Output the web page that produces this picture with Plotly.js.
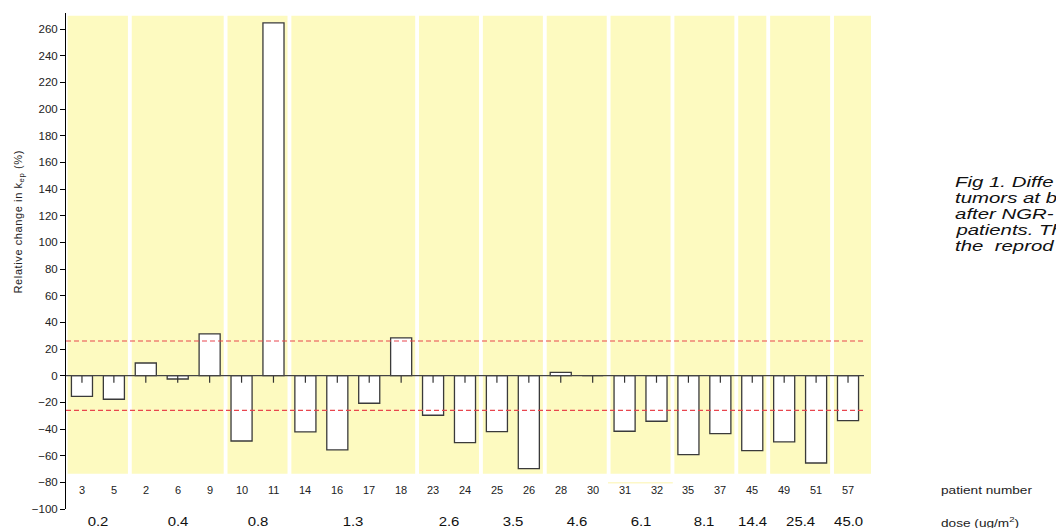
<!DOCTYPE html>
<html>
<head>
<meta charset="utf-8">
<script src="https://cdn.plot.ly/plotly-3.0.1.min.js"></script>
<style>
  html, body { margin: 0; padding: 0; background: #ffffff; }
  #chart { width: 1056px; height: 528px; }
</style>
</head>
<body>
<div id="chart"></div>
<script>
// ---- data ----
var patients = ['3','5','2','6','9','10','11','14','16','17','18','23','24','25','26','28','30','31','32','35','37','45','49','51','57'];
var changes  = [-15.5,-17.7,9.5,-2.5,31.3,-49,264.6,-42.2,-55.7,-20.7,28.3,-29.7,-50.2,-42,-69.7,2.5,0,-41.7,-34.2,-59.2,-43.5,-56.2,-49.7,-65.5,-33.7];
var errMinus = [5.3,5.3,5.3,5.3,5.3,5.3,5.3,5.3,5.3,5.3,5.3,5.3,5.3,5.3,5.3,5.3,5.3,5.3,5.3,5.3,5.3,5.3,5.3,5.3,5.3];
var doses      = ['0.2','0.4','0.8','1.3','2.6','3.5','4.6','6.1','8.1','14.4','25.4','45.0'];
var groupSizes = [2,3,2,4,2,2,2,2,2,1,2,1];
var thresholds = [26, -26];
var captionLines = ['Fig 1. Diffe', 'tumors at b', 'after NGR-', 'patients. Th', 'the  reprod'];

// ---- layout helpers ----
var idx = patients.map(function(_, i){ return i; });
var X_MIN = -0.5, X_MAX = 24.72, Y_MIN = -100, Y_MAX = 272;
var BAND_LO = -73.5, BAND_HI = 270;
var FONT = 'Arial, "Liberation Sans", sans-serif';

var shapes = [];
var annotations = [];
var start = 0;
groupSizes.forEach(function(n, g){
  var first = start, last = start + n - 1;
  var x0 = (g === 0) ? first - 0.45 : first - 0.44;
  var x1 = (g === groupSizes.length - 1) ? X_MAX : last + 0.44;
  shapes.push({type:'rect', layer:'below', xref:'x', yref:'y', x0:x0, x1:x1, y0:BAND_LO, y1:BAND_HI,
               fillcolor:'#FDFAC0', line:{width:0}});
  annotations.push({xref:'x', yref:'paper', x:(first + last) / 2, y:-0.026, xanchor:'center', yanchor:'middle',
                    text:doses[g], showarrow:false, name:'dose',
                    font:{family:FONT, size:13, color:'#111'}});
  start += n;
});

// faint yellow stroke under group 6.1 labels (as in the original)
shapes.push({type:'line', layer:'below', xref:'x', yref:'y', x0:16.48, x1:18.51, y0:-80.3, y1:-80.3,
             line:{color:'#FDF8C8', width:1.5}});

// zero line and thresholds
shapes.push({type:'line', layer:'above', xref:'x', yref:'y', x0:-0.5, x1:24.5, y0:0, y1:0,
             line:{color:'#444', width:1.3}});
thresholds.forEach(function(t){
  shapes.push({type:'line', layer:'above', xref:'x', yref:'y', x0:-0.5, x1:24.5, y0:t, y1:t,
               line:{color:'#E8464E', width:1.2, dash:'5px,3px'}});
});

// patient number labels
patients.forEach(function(p, i){
  annotations.push({xref:'x', yref:'y', x:i, y:-86, xanchor:'center', yanchor:'middle', text:p, showarrow:false,
                    font:{family:FONT, size:11, color:'#222'}});
});

// y title
annotations.push({xref:'paper', yref:'paper', x:-0.058, y:0.58, xanchor:'center', yanchor:'middle', textangle:-90,
                  text:'Relative change in k<sub>ep</sub> (%)', showarrow:false, name:'ytitle',
                  font:{family:FONT, size:11, color:'#222'}});

// right side legends
annotations.push({xref:'paper', yref:'paper', x:1.084, xanchor:'left', yanchor:'middle', y:0.038, text:'patient number',
                  showarrow:false, name:'legend', font:{family:FONT, size:11, color:'#222'}});
annotations.push({xref:'paper', yref:'paper', x:1.084, xanchor:'left', yanchor:'middle', y:-0.026, text:'dose (ug/m<sup>2</sup>)',
                  showarrow:false, name:'legend', font:{family:FONT, size:11, color:'#222'}});
captionLines.forEach(function(t, k){
  annotations.push({xref:'paper', yref:'paper', x:1.102, xanchor:'left', yanchor:'middle', y:0.66 - k * 0.0323,
                    text:'<i>' + t + '</i>', showarrow:false, name:'caption',
                    font:{family:FONT, size:15, color:'#111'}});
});

var bars = {
  type:'bar', x:idx, y:changes, width:0.66,
  marker:{color:'#ffffff', line:{color:'#3a3a3a', width:1.3}},
  hoverinfo:'skip', showlegend:false
};
var ticksTrace = {
  type:'scatter', mode:'markers', x:idx, y:idx.map(function(){ return 0; }),
  marker:{size:1, color:'rgba(0,0,0,0)'},
  error_y:{type:'data', symmetric:false, array:idx.map(function(){ return 0; }), arrayminus:errMinus,
           width:0, thickness:1.2, color:'#333'},
  hoverinfo:'skip', showlegend:false
};

var layout = {
  width:1056, height:528,
  margin:{l:66, r:185, t:13, b:19},
  paper_bgcolor:'#ffffff', plot_bgcolor:'rgba(0,0,0,0)',
  xaxis:{range:[X_MIN, X_MAX], showgrid:false, zeroline:false, showline:false,
         showticklabels:false, ticks:''},
  yaxis:{range:[Y_MIN, Y_MAX], tick0:0, dtick:20, showgrid:false, zeroline:false,
         showline:true, linecolor:'#000', linewidth:1, ticks:'outside', ticklen:5,
         tickcolor:'#000', tickfont:{family:FONT, size:11.5, color:'#222'}},
  shapes:shapes, annotations:annotations, showlegend:false
};

// widen text horizontally, as the original's text is drawn wider than plain Arial
function stretch(el, s, origin){
  var b = el.getBBox();
  var ox = origin === 'center' ? b.x + b.width / 2 : b.x;
  el.setAttribute('transform', 'translate(' + ox + ',0) scale(' + s + ',1) translate(' + (-ox) + ',0)');
}

Plotly.newPlot('chart', [bars, ticksTrace], layout, {staticPlot:true}).then(function(){
  var groups = document.querySelectorAll('g.annotation');
  groups.forEach(function(g, i){
    var ann = annotations[i];
    var t = g.querySelector('text.annotation-text');
    if (!ann || !t) return;
    if (ann.name === 'caption') stretch(t, 1.36, 'left');
    else if (ann.name === 'legend') stretch(t, 1.24, 'left');
    else if (ann.name === 'dose') stretch(t, 1.15, 'center');
    else if (ann.name === 'ytitle') t.style.letterSpacing = '0.6px';
  });
});
</script>
</body>
</html>
